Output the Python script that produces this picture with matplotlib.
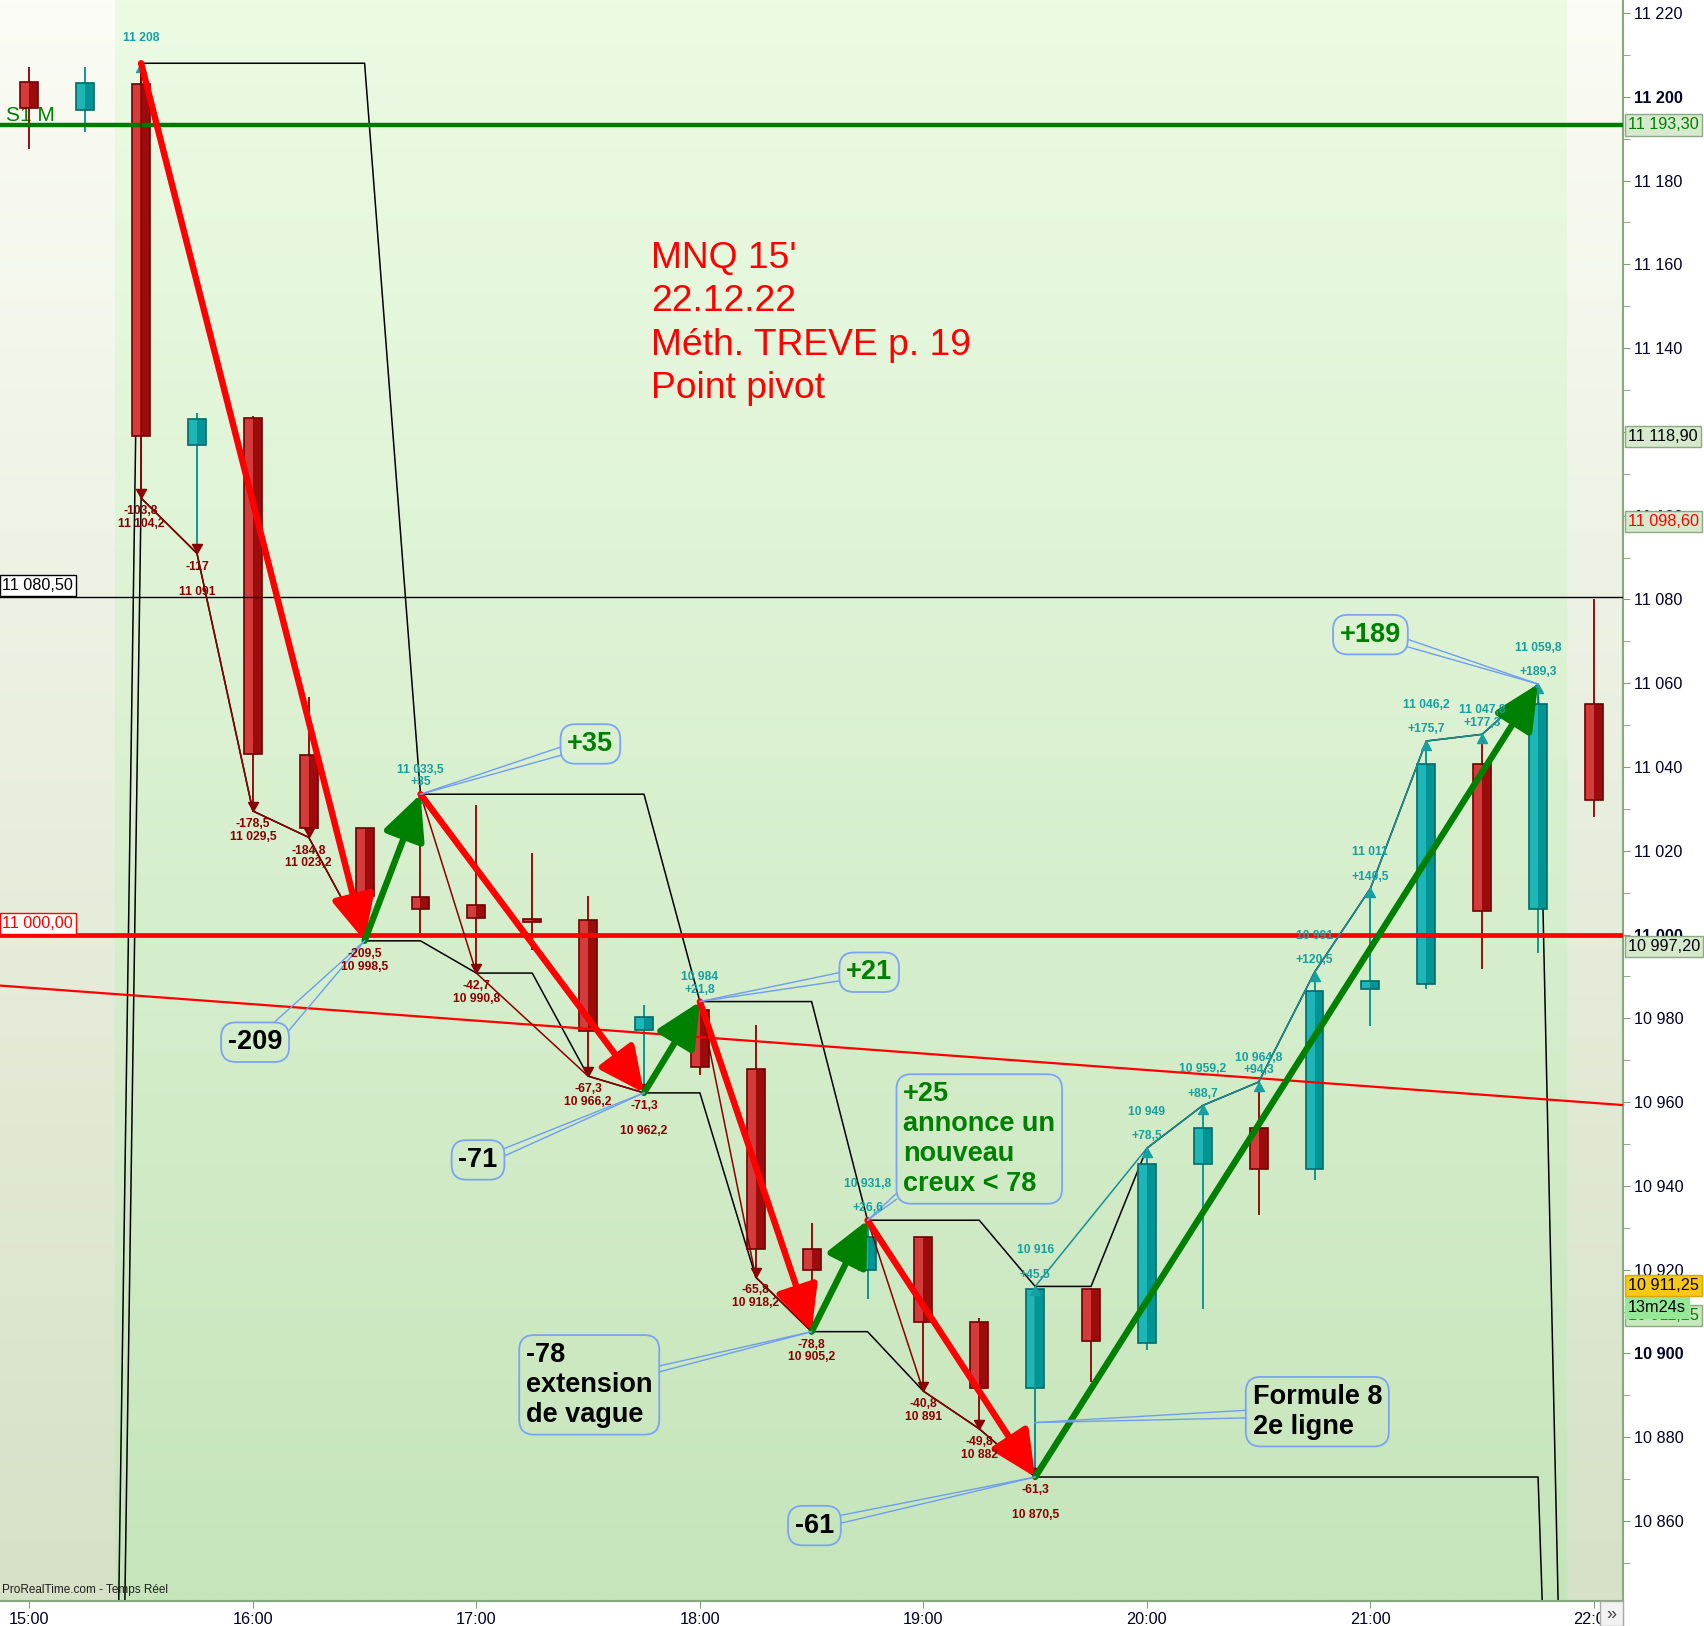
import numpy as np
import matplotlib.pyplot as plt
from matplotlib.path import Path
from matplotlib.patches import Rectangle

plt.rcParams['font.family'] = ['Liberation Sans', 'DejaVu Sans']

# MNQ 15' bars of 22.12.22, bar 0 = 15:00
opens = [11203.6, 11196.9, 11203.0, 11116.9, 11123.4, 11042.8, 11025.5, 11009.0, 11007.0, 11003.6,
         11003.4, 10977.1, 10982.0, 10967.8, 10924.9, 10919.8, 10927.7, 10907.6, 10891.7, 10915.5,
         10902.5, 10945.3, 10953.8, 10944.0, 10987.0, 10988.1, 11040.7, 11006.2, 11055.0]
highs = [11207.1, 11207.1, 11208.0, 11124.6, 11123.8, 11056.8, 11025.5, 11033.5, 11031.0, 11019.5,
         11009.3, 10983.1, 10984.0, 10978.5, 10931.2, 10931.8, 10927.9, 10908.5, 10916.0, 10915.7,
         10949.0, 10959.2, 10964.8, 10991.0, 11011.0, 11046.2, 11047.8, 11059.8, 11080.2]
lows = [11187.5, 11191.5, 11104.2, 11091.0, 11029.5, 11023.2, 10998.5, 11000.3, 10990.8, 10996.4,
        10966.2, 10962.2, 10966.5, 10918.2, 10905.2, 10912.9, 10891.0, 10882.0, 10870.5, 10893.1,
        10900.9, 10910.5, 10933.1, 10941.4, 10978.2, 10987.0, 10991.7, 10995.6, 11028.0]
closes = [11197.4, 11203.3, 11118.9, 11123.0, 11043.0, 11025.4, 11009.2, 11006.2, 11004.0, 11003.0,
          10977.0, 10980.3, 10968.4, 10924.9, 10919.8, 10927.7, 10907.4, 10891.7, 10915.4, 10903.0,
          10945.3, 10953.8, 10944.0, 10986.5, 10988.8, 11040.7, 11005.7, 11055.0, 11032.2]
hour_labels = ['15:00', '16:00', '17:00', '18:00', '19:00', '20:00', '21:00', '22:00']

# step lines of the zigzag indicator, one value per bar
high_step = [np.nan, 10290, 11208, 11208, 11208, 11208, 11208, 11033.5, 11033.5, 11033.5, 11033.5,
             11033.5, 10984, 10984, 10984, 10931.8, 10931.8, 10931.8, 10916, 10916, 10949, 10959.2,
             10964.8, 10991, 11011, 11046.2, 11047.8, 11059.8, 10450]
low_step = [np.nan, 10197, 11104.2, 11091, 11029.5, 11023.2, 10998.5, 10998.5, 10990.8, 10990.8,
            10966.2, 10962.2, 10962.2, 10918.2, 10905.2, 10905.2, 10891, 10882, 10870.5, 10870.5,
            10870.5, 10870.5, 10870.5, 10870.5, 10870.5, 10870.5, 10870.5, 10870.5, 10470]

# main swing pivots (high, low, high, ...)
pivot_bars = [2, 6, 7, 11, 12, 14, 15, 18, 27]
pivot_prices = [11208, 10998.5, 11033.5, 10962.2, 10984, 10905.2, 10931.8, 10870.5, 11059.8]

# intermediate extremes of each leg
down_leg_bars = [[2, 3, 4, 5, 6], [8, 10, 11], [13, 14], [16, 17, 18]]
down_leg_lows = [[11104.2, 11091, 11029.5, 11023.2, 10998.5], [10990.8, 10966.2, 10962.2],
                 [10918.2, 10905.2], [10891, 10882, 10870.5]]
up_leg_bars = [[7], [12], [15], [18, 20, 21, 22, 23, 24, 25, 26, 27]]
up_leg_highs = [[11033.5], [10984], [10931.8],
                [10916, 10949, 10959.2, 10964.8, 10991, 11011, 11046.2, 11047.8, 11059.8]]

# levels
s1m_level = 11193.3
pivot_level = 11000.0
black_level = 11080.5
trend_bars = [0, 28]
trend_prices = [10987.3, 10959.8]
tag_prices = [11193.30, 11118.90, 11098.60, 10997.20]
last_price = 10911.25
countdown = '13m24s'

title = "MNQ 15'\n22.12.22\nMéth. TREVE p. 19\nPoint pivot"

callout_texts = ['-209', '+35', '+21', '-71', '+25\nannonce un\nnouveau\ncreux < 78',
                 '-78\nextension\nde vague', '-61', 'Formule 8\n2e ligne', '+189']
callout_target_bars = [6, 7, 12, 11, 15, 14, 18, 18, 27]
callout_target_prices = [10998.5, 11033.5, 10984, 10962.2, 10931.8, 10905.2, 10870.5, 10883.5, 11059.8]

# ---------------- layout ----------------
x0, x1 = -0.525, 28.52
y0, y1 = 10840.9, 11223.1
red_c, green_c = '#ff0000', '#008000'
dred, teal_t = '#8b0000', '#17a0a2'

fig = plt.figure(figsize=(17.04, 16.26), dpi=100)
ax = fig.add_axes([0, 25 / 1626, 1623 / 1704, 1601 / 1626])
ax.set_xlim(x0, x1)
ax.set_ylim(y0, y1)

# background: session shading with vertical gradient
cols = np.linspace(x0, x1, 1400)
in_sess = (cols > 1.52) & (cols < 27.53)
t = np.linspace(0, 1, 300)[:, None, None]
top_s, bot_s = np.array([236, 251, 228]) / 255, np.array([198, 229, 187]) / 255
top_o, bot_o = np.array([251, 252, 245]) / 255, np.array([214, 225, 199]) / 255
img = np.where(in_sess[None, :, None], top_s + (bot_s - top_s) * t, top_o + (bot_o - top_o) * t)
ax.imshow(img, extent=[x0, x1, y0, y1], aspect='auto', origin='upper', zorder=0)

bars = np.arange(len(opens))

# black step lines
ax.plot(bars, high_step, color='black', lw=1.1, zorder=2.5)
ax.plot(bars, low_step, color='black', lw=1.1, zorder=2.5)

ax.text(-0.42, s1m_level + 1.0, 'S1 M', color=green_c, fontsize=15, va='baseline', zorder=2)

# candles
w = 0.32
for i, (o, h, l, c) in enumerate(zip(opens, highs, lows, closes)):
    up = c >= o
    if up:
        wick, light, dark, edge = '#009090', '#1db5b5', '#009494', '#006a6a'
    else:
        wick, light, dark, edge = '#8b0000', '#d43c3c', '#9c0c0c', '#700000'
    ax.vlines(i, l, h, color=wick, lw=1.3, zorder=3)
    lo, hi = min(o, c), max(o, c)
    ax.add_patch(Rectangle((i - w / 2, lo), w / 2, hi - lo, fc=light, ec='none', zorder=3.1))
    ax.add_patch(Rectangle((i, lo), w / 2, hi - lo, fc=dark, ec='none', zorder=3.1))
    ax.add_patch(Rectangle((i - w / 2, lo), w, hi - lo, fc='none', ec=edge, lw=1.2, zorder=3.2))

# levels and trend line
ax.axhline(s1m_level, color='#007a00', lw=3.2, zorder=4)
ax.axhline(pivot_level, color=red_c, lw=3.4, zorder=4)
ax.axhline(black_level, color='black', lw=1.0, zorder=4)
ax.axline((trend_bars[0], trend_prices[0]), (trend_bars[1], trend_prices[1]), color=red_c, lw=1.6, zorder=4)

tr_y = ax.get_yaxis_transform()
ax.text(0.0015, black_level + 2.9, '11 080,50', transform=tr_y, fontsize=11.7, color='black', va='center',
        ha='left', zorder=9, bbox=dict(boxstyle='square,pad=0.18', fc='white', ec='black', lw=1))
ax.text(0.0015, pivot_level + 2.6, '11 000,00', transform=tr_y, fontsize=11.7, color=red_c, va='center',
        ha='left', zorder=9, bbox=dict(boxstyle='square,pad=0.18', fc='white', ec=red_c, lw=1))


def fr(v, sign=False):
    v = round(v, 1)
    s = f'{abs(v):,.1f}'.replace(',', ' ').replace('.', ',')
    if s.endswith(',0'):
        s = s[:-2]
    if sign:
        s = ('+' if v >= 0 else '-') + s
    return s


down_tri = Path([(-0.55, 1), (0.55, 1), (0, 0), (-0.55, 1)], [1, 2, 2, 79])
up_tri = Path([(-0.55, -1), (0.55, -1), (0, 0), (-0.55, -1)], [1, 2, 2, 79])
down_wide = [[False, True, False, False, False], [False, False, True], [False, False], [False, False, True]]
up_wide = [[False], [False], [True], [True, True, True, False, True, True, True, False, True]]
lab_kw = dict(fontsize=8.7, fontweight='bold', ha='center', va='center', textcoords='offset points', zorder=8)

# top pivot marker
ax.plot(pivot_bars[0], pivot_prices[0], marker=up_tri, ms=13, color=teal_t, zorder=6, ls='none')
ax.annotate(fr(pivot_prices[0]), (pivot_bars[0], pivot_prices[0]), xytext=(0, 18), color=teal_t, **lab_kw)

for k in range(len(down_leg_bars)):
    sb, sp = pivot_bars[2 * k], pivot_prices[2 * k]
    ax.plot([sb] + down_leg_bars[k], [sp] + down_leg_lows[k], color=dred, lw=1.1, zorder=5)
    ax.plot(down_leg_bars[k], down_leg_lows[k], marker=down_tri, ms=13, color=dred, ls='none', zorder=6)
    for b, p, wd in zip(down_leg_bars[k], down_leg_lows[k], down_wide[k]):
        ax.annotate(fr(p - sp, True), (b, p), xytext=(0, -9.5), color=dred, **lab_kw)
        ax.annotate(fr(p), (b, p), xytext=(0, -27.5 if wd else -18.5), color=dred, **lab_kw)

for k in range(len(up_leg_bars)):
    sb, sp = pivot_bars[2 * k + 1], pivot_prices[2 * k + 1]
    ax.plot([sb] + up_leg_bars[k], [sp] + up_leg_highs[k], color='#168f94', lw=1.1, zorder=5)
    ax.plot(up_leg_bars[k], up_leg_highs[k], marker=up_tri, ms=13, color=teal_t, ls='none', zorder=6)
    for b, p, wd in zip(up_leg_bars[k], up_leg_highs[k], up_wide[k]):
        ax.annotate(fr(p - sp, True), (b, p), xytext=(0, 8.5), color=teal_t, **lab_kw)
        ax.annotate(fr(p), (b, p), xytext=(0, 26 if wd else 17.5), color=teal_t, **lab_kw)

# thick swing arrows
for b0, p0, b1, p1 in zip(pivot_bars[:-1], pivot_prices[:-1], pivot_bars[1:], pivot_prices[1:]):
    col = red_c if p1 < p0 else green_c
    ax.annotate('', xy=(b1, p1), xytext=(b0, p0), zorder=7,
                arrowprops=dict(arrowstyle='-|>,head_length=1.15,head_width=0.55', color=col, lw=4.6,
                                shrinkA=0, shrinkB=0, mutation_scale=24))

# title
ax.text(11.13, 11165.6, title, color=red_c, fontsize=26.8, va='top', ha='left', linespacing=1.31, zorder=8)

# callouts
callout_pos = [(4.04, 10974.3), (10.04, 11045.5), (15.03, 10991.0), (8.03, 10946.2), (17.0, 10951.2),
               (10.02, 10892.5), (14.05, 10858.9), (23.05, 10886.1), (24.0, 11071.6)]
callout_cols = ['black', green_c, green_c, 'black', green_c, 'black', 'black', 'black', green_c]
leader_fr = [[(0.78, 0.0), (1.0, 0.2)], [(0, 0.58), (0, 0.79)], [(0, 0.51), (0, 0.72)],
             [(1, 0.21), (1, 0.40)], [(0, 0.92), (0, 0.965)], [(1, 0.31), (1, 0.37)],
             [(1, 0.24), (1, 0.44)], [(0, 0.48), (0, 0.59)], [(1, 0.62), (1, 0.81)]]
boxes = []
for txt, (bx, by), col in zip(callout_texts, callout_pos, callout_cols):
    tt = ax.text(bx, by, txt, ha='center', va='center', multialignment='left', fontsize=19.5,
                 fontweight='bold', color=col, linespacing=1.2, zorder=8,
                 bbox=dict(boxstyle='round,pad=0.25,rounding_size=0.55', fc='none', ec='#7ba4f4', lw=1.3))
    boxes.append(tt)

# right axis
yt = np.arange(10860, 11221, 20)
ax.set_yticks(yt)
ax.set_yticklabels([fr(v) for v in yt])
ax.set_yticks(np.arange(10850, 11221, 10), minor=True)
ax.yaxis.tick_right()
for lab, v in zip(ax.get_yticklabels(), yt):
    if v % 100 == 0:
        lab.set_fontweight('bold')
ax.set_xticks(np.arange(0, 29, 4))
ax.set_xticklabels(hour_labels)
ax.tick_params(axis='both', which='both', direction='out', length=5, color='#7f9f76',
               labelsize=11.7, labelcolor='#000028', pad=3)
for side in ['top', 'left']:
    ax.spines[side].set_visible(False)
for side in ['right', 'bottom']:
    ax.spines[side].set_color('#88a880')
    ax.spines[side].set_linewidth(1.5)

tag_cols = [green_c, 'black', red_c, 'black']
for p, tc in zip(tag_prices, tag_cols):
    txt = f'{p:,.2f}'.replace(',', ' ').replace('.', ',')
    ax.text(1.003, p, txt, transform=tr_y, ha='left', va='center', fontsize=11.7, color=tc,
            clip_on=False, zorder=10,
            bbox=dict(boxstyle='square,pad=0.2', fc='#d6e9cc', ec='#8aaa82', lw=1))
last_txt = f'{last_price:,.2f}'.replace(',', ' ').replace('.', ',')
ax.text(1.003, last_price - 2.2, last_txt, transform=tr_y, ha='left', va='center', fontsize=11.7,
        color=green_c, clip_on=False, zorder=10,
        bbox=dict(boxstyle='square,pad=0.2', fc='#c6e8bc', ec='#8aaa82', lw=1))
ax.text(1.003, last_price - 0.2, countdown, transform=tr_y, ha='left', va='center', fontsize=11.7,
        color='black', clip_on=False, zorder=11,
        bbox=dict(boxstyle='square,pad=0.2', fc='#96e896', ec='#96e896', lw=1))
ax.text(1.003, last_price + 5.0, last_txt, transform=tr_y, ha='left', va='center', fontsize=11.7,
        color='black', clip_on=False, zorder=12,
        bbox=dict(boxstyle='square,pad=0.2', fc='#f8c814', ec='#d8a800', lw=1))

ax.text(0.001, 0.003, 'ProRealTime.com - Temps Réel', transform=ax.transAxes, fontsize=8.5,
        color='#202020', ha='left', va='bottom', zorder=9)

# "»" button
fig.add_artist(Rectangle((1600 / 1704, 0), 23 / 1704, 25 / 1626, transform=fig.transFigure,
                         fc='#f2f2f2', ec='#a8a8a8', lw=1, zorder=5))
fig.text(1611.5 / 1704, 12 / 1626, '»', ha='center', va='center', fontsize=13, color='#404040', zorder=6)

# leaders of the callouts, from the drawn boxes
fig.canvas.draw()
rend = fig.canvas.get_renderer()
inv = ax.transData.inverted()
for tt, fracs, tb, tp in zip(boxes, leader_fr, callout_target_bars, callout_target_prices):
    bb = tt.get_bbox_patch().get_window_extent(rend)
    for fx, fy in fracs:
        sx, sy = inv.transform((bb.x0 + fx * bb.width, bb.y1 - fy * bb.height))
        ax.plot([sx, tb], [sy, tp], color='#6f9ef0', lw=1.0, zorder=7.5)

fig.savefig('out.png', dpi=100)
